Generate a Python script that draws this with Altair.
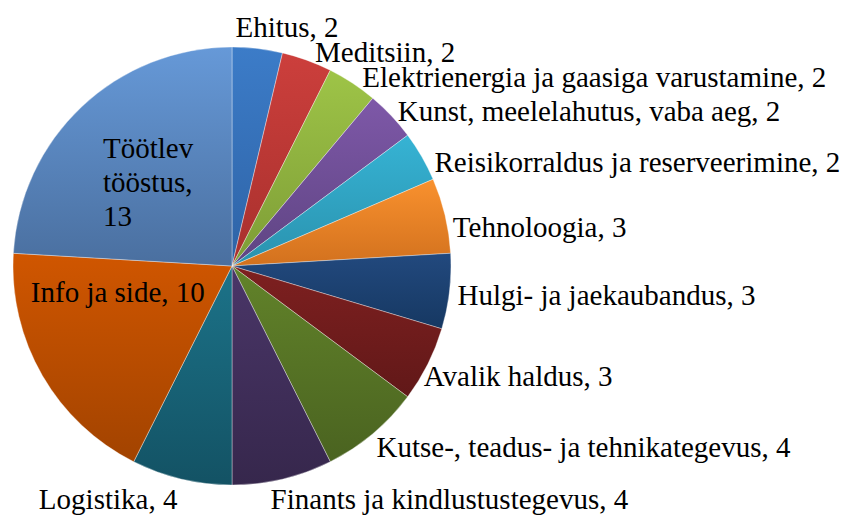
import altair as alt
import pandas as pd

# ---- data ----
categories = [
    "Ehitus", "Meditsiin", "Elektrienergia ja gaasiga varustamine",
    "Kunst, meelelahutus, vaba aeg", "Reisikorraldus ja reserveerimine",
    "Tehnoloogia", "Hulgi- ja jaekaubandus", "Avalik haldus",
    "Kutse-, teadus- ja tehnikategevus", "Finants ja kindlustustegevus",
    "Logistika", "Info ja side", "Töötlev tööstus",
]
values = [2, 2, 2, 2, 2, 3, 3, 3, 4, 4, 4, 10, 13]

# ---- styles (gradient top / bottom colours per slice) ----
color_top = ["#3C7CC8", "#CC3F3C", "#9EC447", "#7E58A8", "#36B3D4", "#F9912E",
             "#22497E", "#7E2020", "#62832A", "#4A3668", "#1C7389", "#D05600", "#6699D8"]
color_bot = ["#2E63A6", "#A8302D", "#7D9C36", "#5E4482", "#2A92AE", "#D2711E",
             "#163862", "#611818", "#4A6320", "#36274C", "#135264", "#A24300", "#4A6F9F"]

# ---- label layout (placement inside/outside, alignment and small nudges) ----
label_inside = [False] * 11 + [True, True]
label_align = ["left"] * 10 + ["right", "center", "left"]
label_dx = [-23, 5, 5, 0, 5, -1, -1, -12, -2, -14, -2, -12, -48]
label_dy = [-12, 1, 2, 2, 11, 15, 4, 9, 7, 12, 12, -32, -31]
LINE_H = 34
FONT = "Liberation Serif"

label_lines = []
for c, v in zip(categories, values):
    if c == "Töötlev tööstus":
        label_lines.append(["Töötlev", "tööstus,", str(v)])
    else:
        label_lines.append([f"{c}, {v}"])

df = pd.DataFrame({
    "order": list(range(len(categories))),
    "category": categories,
    "value": values,
    "lines": label_lines,
    "lidx": [list(range(len(l))) for l in label_lines],
    "c1": color_top,
    "c2": color_bot,
    "inside": label_inside,
    "al": label_align,
    "ndx": label_dx,
    "ndy": label_dy,
})

CX, CY, R = 224, 258, 219

base = alt.Chart(df).transform_window(
    cum="sum(value)", sort=[alt.SortField("order")],
    frame=[None, 0]
).transform_joinaggregate(
    total="sum(value)"
).transform_calculate(
    f_end="datum.cum / datum.total",
    f_start="(datum.cum - datum.value) / datum.total",
    f_mid="(datum.cum - datum.value / 2) / datum.total",
)

theta_scale = alt.Scale(domain=[0, 1])

gradient_expr = ("{gradient: 'linear', x1: 0, y1: 0, x2: 0, y2: 1, "
                 "stops: [{offset: 0, color: datum.c1}, {offset: 1, color: datum.c2}]}")

arcs = base.mark_arc(
    outerRadius=R,
    stroke="#FFFFFF",
    strokeWidth=0.6,
    strokeOpacity=0.6,
    fill={"expr": gradient_expr},
).encode(
    theta=alt.Theta("f_start:Q", scale=theta_scale),
    theta2="f_end:Q",
    x=alt.value(CX),
    y=alt.value(CY),
)

# label anchor: polar point at the slice's mid angle, then nudged; converted back to polar
label_base = base.transform_flatten(
    ["lines", "lidx"]
).transform_calculate(
    r0="datum.inside ? 118 : 228",
).transform_calculate(
    px="datum.r0 * sin(2 * PI * datum.f_mid) + datum.ndx",
    py=f"-datum.r0 * cos(2 * PI * datum.f_mid) + datum.ndy + datum.lidx * {LINE_H}",
).transform_calculate(
    lr="sqrt(datum.px * datum.px + datum.py * datum.py)",
    lt0="atan2(datum.px, -datum.py) / (2 * PI)",
).transform_calculate(
    lt="datum.lt0 < 0 ? datum.lt0 + 1 : datum.lt0",
)


def text_layer(align):
    return label_base.transform_filter(
        alt.datum.al == align
    ).mark_text(
        font=FONT,
        fontSize=29,
        color="#000000",
        baseline="middle",
        align=align,
    ).encode(
        theta=alt.Theta("lt:Q", scale=theta_scale),
        radius=alt.Radius("lr:Q", scale=None),
        text=alt.Text("lines:N"),
        x=alt.value(CX),
        y=alt.value(CY),
    )


chart = alt.layer(
    arcs, text_layer("left"), text_layer("right"), text_layer("center")
).properties(
    width=834, height=507, autosize="none", padding=0,
    background="#FFFFFF",
).configure_view(stroke=None)

chart.save("out.html", embed_options={"renderer": "svg", "actions": False})
